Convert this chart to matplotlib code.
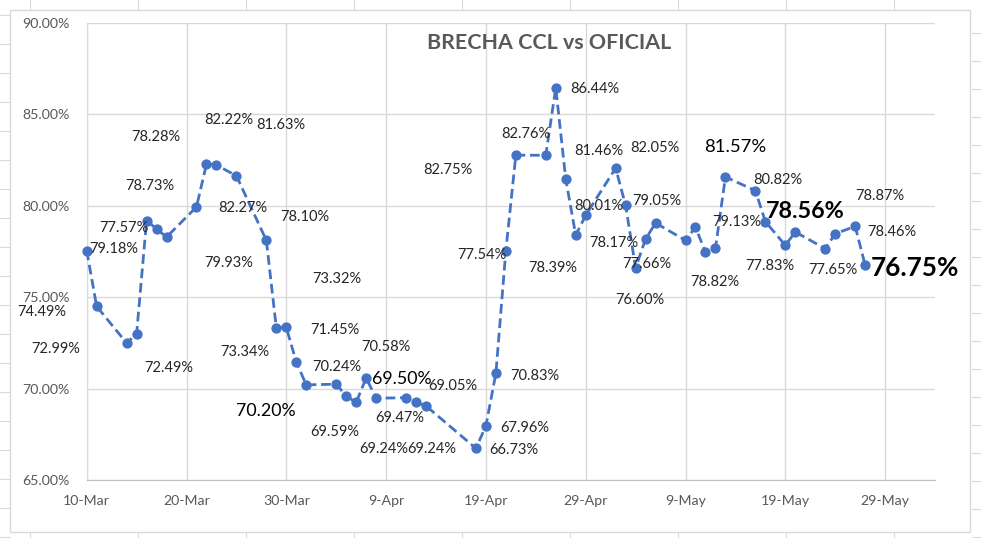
import matplotlib
matplotlib.use("Agg")
import matplotlib.pyplot as plt
import matplotlib.dates as mdates
from matplotlib.lines import Line2D
from matplotlib.patches import Rectangle
from matplotlib.ticker import FuncFormatter
import pandas as pd

plt.rcParams['font.family'] = ['Lato', 'DejaVu Sans']

# ---------------- data ----------------
title = "BRECHA CCL vs OFICIAL"

dates = ["2022-03-10", "2022-03-11", "2022-03-14", "2022-03-15", "2022-03-16", "2022-03-17",
         "2022-03-18", "2022-03-21", "2022-03-22", "2022-03-23", "2022-03-25", "2022-03-28",
         "2022-03-29", "2022-03-30", "2022-03-31", "2022-04-01", "2022-04-04", "2022-04-05",
         "2022-04-06", "2022-04-07", "2022-04-08", "2022-04-11", "2022-04-12", "2022-04-13",
         "2022-04-18", "2022-04-19", "2022-04-20", "2022-04-21", "2022-04-22", "2022-04-25",
         "2022-04-26", "2022-04-27", "2022-04-28", "2022-04-29", "2022-05-02", "2022-05-03",
         "2022-05-04", "2022-05-05", "2022-05-06", "2022-05-09", "2022-05-10", "2022-05-11",
         "2022-05-12", "2022-05-13", "2022-05-16", "2022-05-17", "2022-05-19", "2022-05-20",
         "2022-05-23", "2022-05-24", "2022-05-26", "2022-05-27"]

brecha = [77.54, 74.49, 72.49, 72.99, 79.18, 78.73, 78.28, 79.93, 82.27, 82.22, 81.63, 78.10,
          73.32, 73.34, 71.45, 70.20, 70.24, 69.59, 69.24, 70.58, 69.47, 69.50, 69.24, 69.05,
          66.73, 67.96, 70.83, 77.54, 82.76, 82.75, 86.44, 81.46, 78.39, 79.47, 82.05, 80.01,
          76.60, 78.17, 79.05, 78.10, 78.82, 77.45, 77.66, 81.57, 80.82, 79.13, 77.83, 78.56,
          77.65, 78.46, 78.87, 76.75]

y_ticks = [65, 70, 75, 80, 85, 90]
x_tick_labels = ["10-Mar", "20-Mar", "30-Mar", "9-Apr", "19-Apr", "29-Apr", "9-May", "19-May", "29-May"]

# data-label texts (as shown in the original chart)
label_texts = ["79.18%", "74.49%", "72.99%", "72.49%", "77.57%", "78.73%", "78.28%", "82.22%",
               "81.63%", "82.27%", "79.93%", "78.10%", "73.32%", "73.34%", "71.45%", "70.20%",
               "70.24%", "69.59%", "70.58%", "69.50%", "69.05%", "69.47%", "69.24%", "69.24%",
               "66.73%", "67.96%", "70.83%", "77.54%", "82.75%", "82.76%", "86.44%", "78.39%",
               "81.46%", "80.01%", "78.17%", "82.05%", "77.66%", "79.05%", "76.60%", "81.57%",
               "80.82%", "79.13%", "78.82%", "78.56%", "77.83%", "77.65%", "78.87%", "78.46%",
               "76.75%"]

# ---------------- label layout (days after start, y value, size, weight) ----------------
N = 10.5
label_layout = [
    (2.69, 77.61, N, 'normal'), (-4.51, 74.20, N, 'normal'), (-3.08, 72.14, N, 'normal'),
    (8.25, 71.12, N, 'normal'), (3.77, 78.76, N, 'normal'), (6.34, 81.07, N, 'normal'),
    (6.94, 83.77, N, 'normal'), (14.19, 84.68, N, 'normal'), (19.44, 84.41, N, 'normal'),
    (15.63, 79.89, N, 'normal'), (14.19, 76.85, N, 'normal'), (21.87, 79.39, N, 'normal'),
    (25.08, 75.99, N, 'normal'), (15.86, 72.01, N, 'normal'), (24.88, 73.20, N, 'normal'),
    (17.97, 68.77, 12.8, 'normal'), (25.11, 71.19, N, 'normal'), (24.88, 67.61, N, 'normal'),
    (29.99, 72.29, N, 'normal'), (31.56, 70.52, 12.8, 'normal'), (36.73, 70.15, N, 'normal'),
    (31.32, 68.40, N, 'normal'), (29.72, 66.68, N, 'normal'), (34.57, 66.68, N, 'normal'),
    (42.82, 66.64, N, 'normal'), (43.93, 67.82, N, 'normal'), (44.93, 70.70, N, 'normal'),
    (39.58, 77.30, N, 'normal'), (36.23, 81.95, N, 'normal'), (44.02, 83.91, N, 'normal'),
    (50.93, 86.36, N, 'normal'), (46.69, 76.57, N, 'normal'), (51.36, 83.00, N, 'normal'),
    (51.33, 79.98, N, 'normal'), (52.77, 77.97, N, 'normal'), (56.94, 83.13, N, 'normal'),
    (56.11, 76.79, N, 'normal'), (57.11, 80.27, N, 'normal'), (55.44, 74.84, N, 'normal'),
    (64.96, 83.22, 13.3, 'normal'), (69.27, 81.40, N, 'normal'), (65.13, 79.12, N, 'normal'),
    (62.96, 75.84, N, 'normal'), (71.98, 79.67, 16.8, 'bold'), (68.40, 76.71, N, 'normal'),
    (74.78, 76.48, N, 'normal'), (79.49, 80.54, N, 'normal'), (80.66, 78.57, N, 'normal'),
    (83.0, 76.59, 18.8, 'bold'),
]

# ---------------- figure ----------------
W, H = 981, 538
fig = plt.figure(figsize=(W / 100, H / 100), dpi=100)
fig.patch.set_facecolor('white')

# spreadsheet cell lines around the chart object
for yy in range(15, 538, 29):
    fig.add_artist(Line2D([0, 10 / W], [1 - yy / H] * 2, color='#DADADA', lw=0.8))
for yy in range(33, 538, 28):
    fig.add_artist(Line2D([972 / W, 1], [1 - yy / H] * 2, color='#DADADA', lw=0.8))
for xx in range(30, 981, 108):
    fig.add_artist(Line2D([xx / W] * 2, [1, 1 - 10 / H], color='#DADADA', lw=0.8))
    fig.add_artist(Line2D([xx / W] * 2, [0, 6 / H], color='#DADADA', lw=0.8))

# chart area border
fig.add_artist(Rectangle((10 / W, 6 / H), 960 / W, 522 / H, transform=fig.transFigure,
                         facecolor='white', edgecolor='#D9D9D9', lw=1.0, zorder=0))

left, right, top, bottom = 86.7 / W, 935 / W, 1 - 22.7 / H, 1 - 480 / H
ax = fig.add_axes([left, bottom, right - left, top - bottom])
ax.set_facecolor('none')

x = mdates.date2num(pd.to_datetime(dates))
start = mdates.date2num(pd.Timestamp("2022-03-10"))

ax.plot(x, brecha, color='#4472C4', lw=2.0, dashes=(3.5, 1.7),
        marker='o', markersize=6.4, markerfacecolor='#4472C4', markeredgecolor='#4472C4',
        zorder=3, clip_on=False)

for txt, (dx, yv, fs, fw) in zip(label_texts, label_layout):
    col = '#000000' if fs > 11 else '#262626'
    ax.text(start + dx, yv, txt, ha='center', va='center', fontsize=fs, fontweight=fw,
            color=col, zorder=4, clip_on=False)

ax.set_ylim(65, 90)
ax.set_yticks(y_ticks)
ax.yaxis.set_major_formatter(FuncFormatter(lambda v, p: f"{v:.2f}%"))
ax.set_xlim(start, start + 85)
ax.set_xticks([start + 10 * i for i in range(len(x_tick_labels))])
ax.set_xticklabels(x_tick_labels)

ax.grid(True, color='#D9D9D9', lw=1.0, zorder=0)
ax.set_axisbelow(True)
for s in ['top', 'right']:
    ax.spines[s].set_visible(False)
ax.spines['left'].set_color('#D9D9D9')
ax.spines['bottom'].set_color('#BFBFBF')
ax.tick_params(axis='both', length=0, labelsize=10.2, labelcolor='#595959')
ax.tick_params(axis='y', pad=12)
ax.tick_params(axis='x', pad=11)

fig.text(549 / W, 1 - 43 / H, title, ha='center', va='center', fontsize=15.4,
         fontweight='bold', color='#595959')

fig.savefig("out.png", dpi=100)
